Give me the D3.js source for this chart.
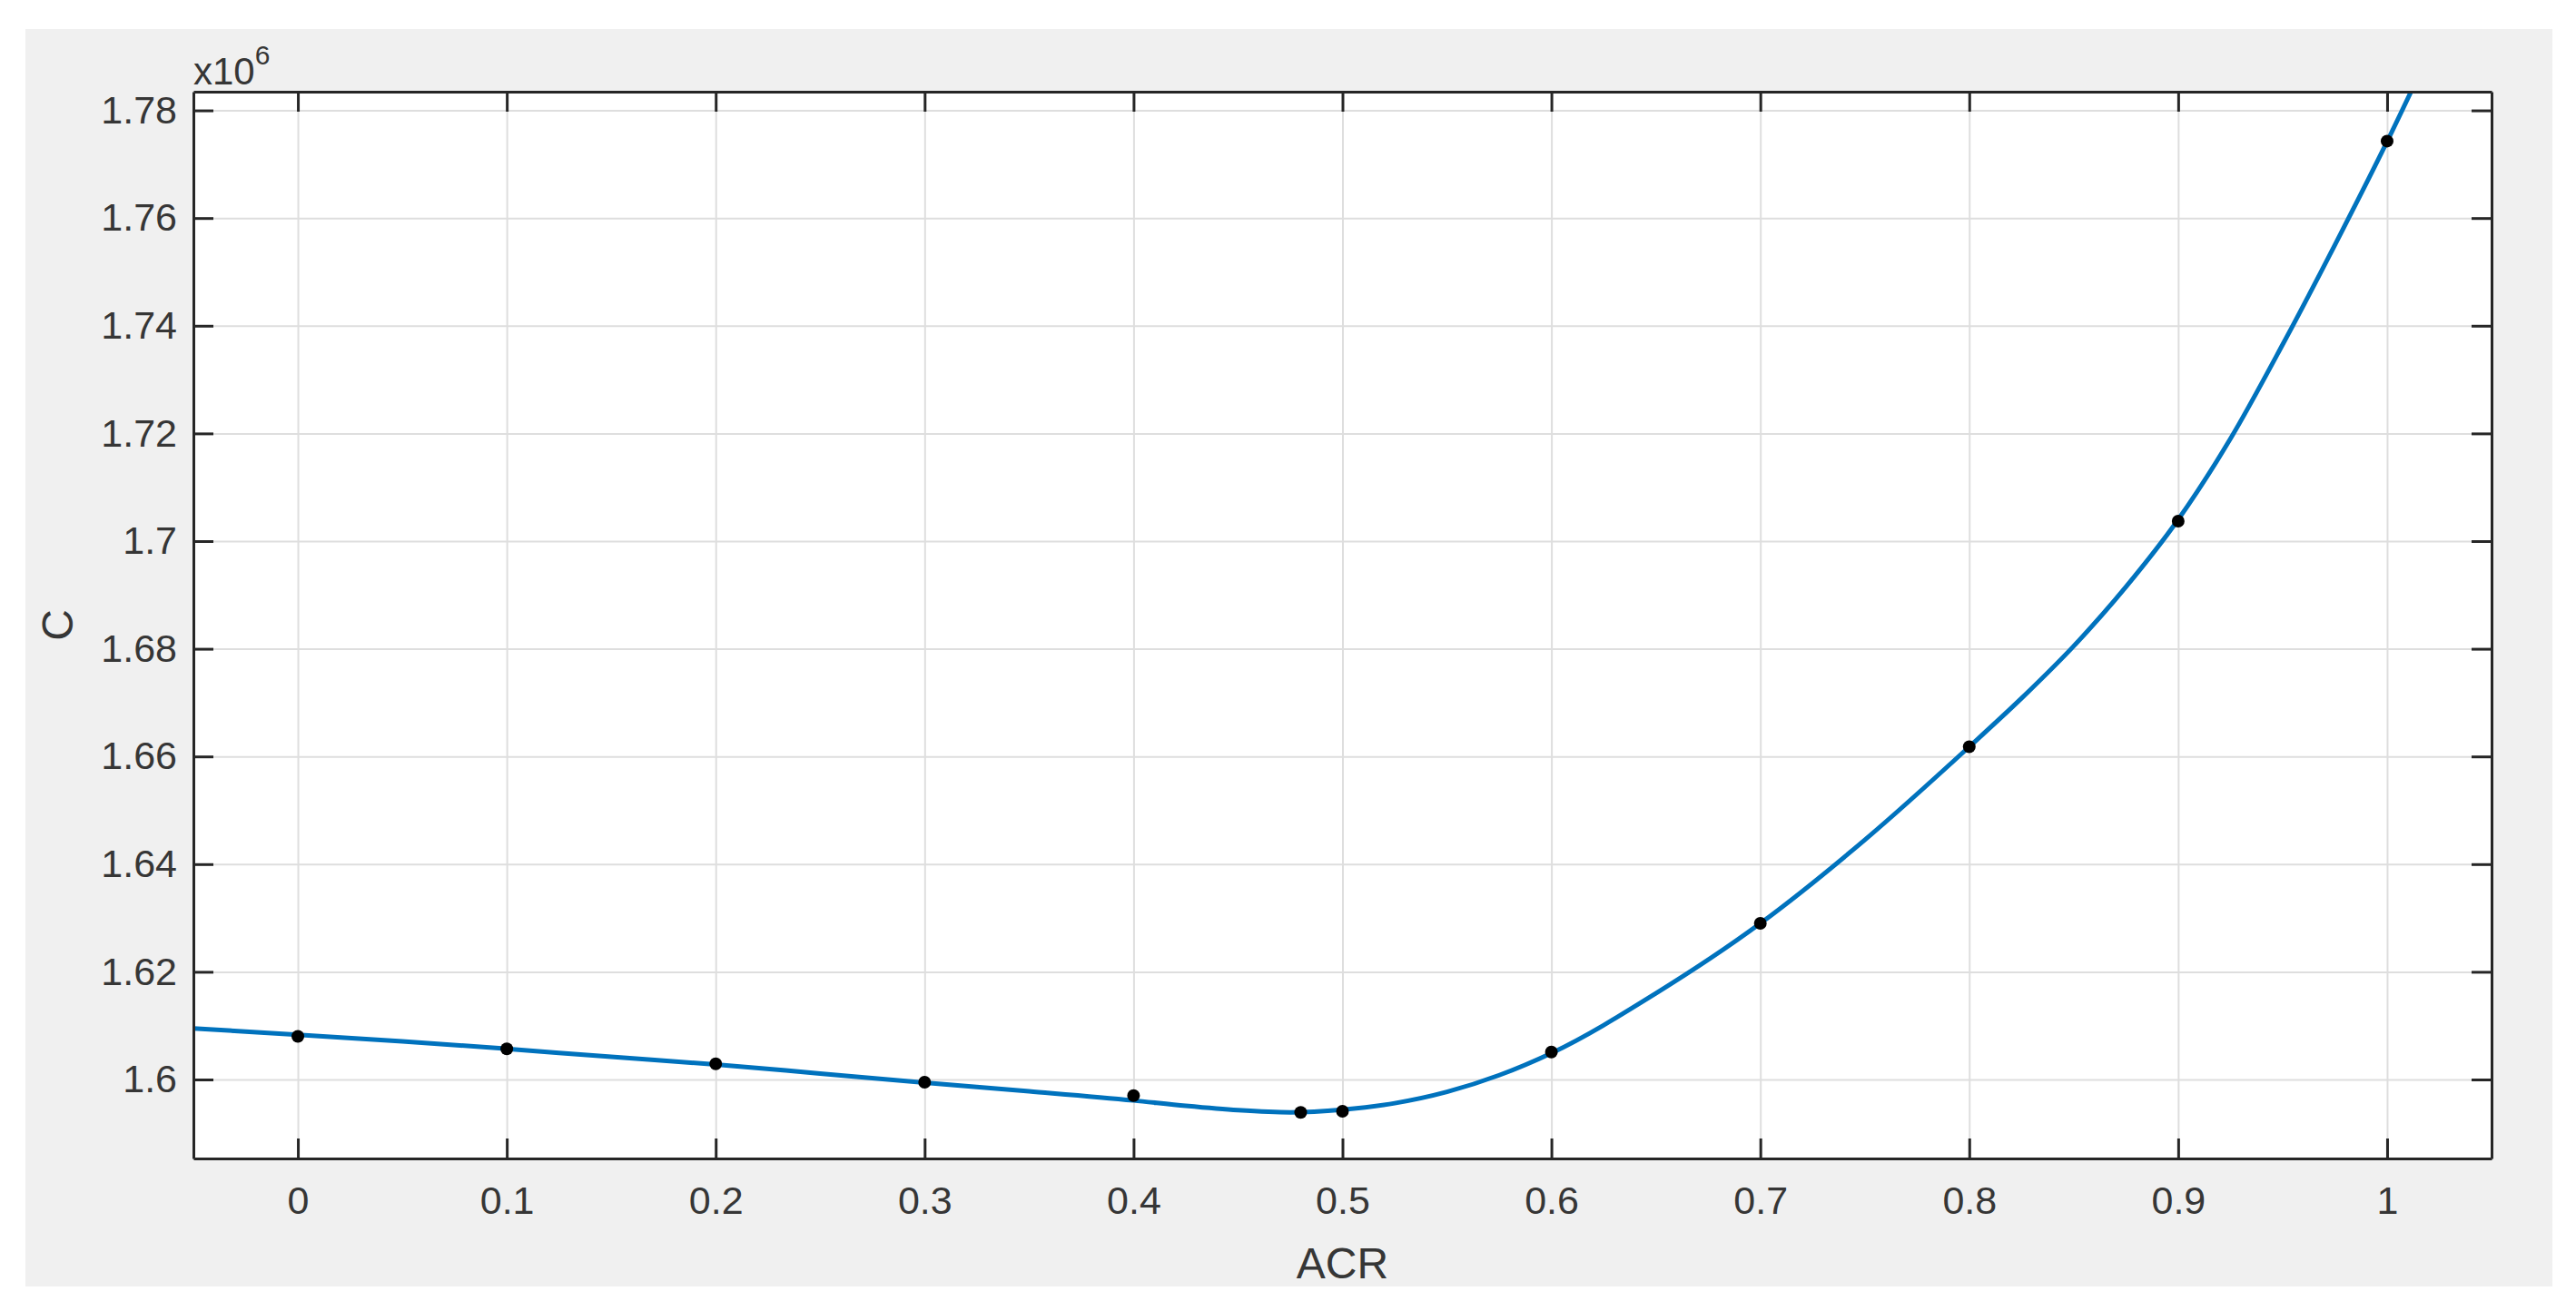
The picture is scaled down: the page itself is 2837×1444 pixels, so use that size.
<!doctype html>
<html lang="en">
<head>
<meta charset="utf-8">
<title>C vs ACR</title>
<style type="text/css">
html, body { margin: 0; padding: 0; background-color: #fff; }
svg { display: block; font-family: "Liberation Sans", Arial, sans-serif; }
.grid line { stroke: #dedede; stroke-width: 2px; }
.grid path { display: none; }
.axis path, .axis line { stroke: #262626; stroke-width: 3px; }
.axis text { fill: #363636; font-size: 43px; }
.curve { fill: none; stroke: #0072bd; stroke-width: 5px; }
.label { fill: #363636; font-size: 48px; }
</style>
<script src="https://cdn.jsdelivr.net/npm/d3@7/dist/d3.min.js"></script>
</head>
<body>
<div id="chart"></div>
<script type="text/javascript">
// measured points (ACR, C in units of 1e6)
const acr = [0, 0.1, 0.2, 0.3, 0.4, 0.48, 0.5, 0.6, 0.7, 0.8, 0.9, 1.0];
const cost = [1.6080, 1.6057, 1.6029, 1.5995, 1.5970, 1.5939, 1.5941, 1.6051, 1.6290, 1.6618, 1.7037, 1.7743];

// fitted curve
const fitX = [-0.05, 0, 0.05, 0.1, 0.15, 0.2, 0.25, 0.3, 0.35, 0.4, 0.425, 0.45, 0.475, 0.5,
              0.525, 0.55, 0.575, 0.6, 0.65, 0.7, 0.75, 0.8, 0.825, 0.85, 0.875, 0.9,
              0.925, 0.95, 0.975, 1.0, 1.02];
const fitY = [1.6095, 1.6083, 1.6071, 1.6057, 1.6042, 1.6028, 1.6011, 1.5994, 1.5978, 1.5961, 1.5951, 1.5943, 1.5939, 1.5944,
              1.5956, 1.5977, 1.6008, 1.6049, 1.6160, 1.6290, 1.6445, 1.6618, 1.6708, 1.6805, 1.6915, 1.7040,
              1.7190, 1.7365, 1.7550, 1.7742, 1.7905];

const xTicks = [0, 0.1, 0.2, 0.3, 0.4, 0.5, 0.6, 0.7, 0.8, 0.9, 1];
const yTicks = [1.6, 1.62, 1.64, 1.66, 1.68, 1.7, 1.72, 1.74, 1.76, 1.78];
const xDomain = [-0.05, 1.05];
const yDomain = [1.58533, 1.78347];

const W = 2837, H = 1444;
const margin = {top: 101, right: W - 2744, bottom: H - 1276, left: 213},
	width  = W - margin.left - margin.right,
	height = H - margin.top - margin.bottom;

const svg = d3.select("#chart").append("svg")
	.attr("width", W)
	.attr("height", H);

// figure background
svg.append("rect")
	.attr("x", 28).attr("y", 32)
	.attr("width", 2811 - 28).attr("height", 1417 - 32)
	.attr("fill", "#f0f0f0");

const g = svg.append("g")
	.attr("transform", "translate(" + margin.left + "," + margin.top + ")");

g.append("rect")
	.attr("width", width).attr("height", height)
	.attr("fill", "#fff");

const x = d3.scaleLinear().domain(xDomain).range([0, width]);
const y = d3.scaleLinear().domain(yDomain).range([height, 0]);

// grid
g.append("g").attr("class", "grid")
	.call(d3.axisBottom(x).tickValues(xTicks).tickSize(height).tickFormat(""));
g.append("g").attr("class", "grid")
	.call(d3.axisLeft(y).tickValues(yTicks).tickSize(-width).tickFormat(""));

g.append("clipPath").attr("id", "clip")
	.append("rect").attr("width", width).attr("height", height);

// the fitted line
const line = d3.line()
	.x((d, i) => x(fitX[i]))
	.y(d => y(d))
	.curve(d3.curveMonotoneX);

g.append("path")
	.datum(fitY)
	.attr("class", "curve")
	.attr("clip-path", "url(#clip)")
	.attr("d", line);

// data markers
g.selectAll(".pt")
	.data(cost)
	.enter().append("circle")
	.attr("class", "pt")
	.attr("cx", (d, i) => x(acr[i]))
	.attr("cy", d => y(d))
	.attr("r", 7)
	.attr("fill", "#000");

// axes (box with inward ticks)
const fmt = d => d3.format("~g")(d);
const tl = 22;
g.append("g").attr("class", "axis")
	.attr("transform", "translate(0," + height + ")")
	.call(d3.axisBottom(x).tickValues(xTicks).tickSizeInner(-tl).tickSizeOuter(0).tickPadding(30).tickFormat(fmt));
g.append("g").attr("class", "axis")
	.call(d3.axisTop(x).tickValues(xTicks).tickSizeInner(-tl).tickSizeOuter(0).tickFormat(""));
g.append("g").attr("class", "axis")
	.call(d3.axisLeft(y).tickValues(yTicks).tickSizeInner(-tl).tickSizeOuter(0).tickPadding(18).tickFormat(fmt));
g.append("g").attr("class", "axis")
	.attr("transform", "translate(" + width + ",0)")
	.call(d3.axisRight(y).tickValues(yTicks).tickSizeInner(-tl).tickSizeOuter(0).tickFormat(""));

g.selectAll(".axis .tick text").attr("font-family", null);

// exponent label
const ex = svg.append("text").attr("class", "label")
	.attr("x", 213).attr("y", 93)
	.style("font-size", "42px");
ex.append("tspan").text("x10");
ex.append("tspan").attr("dy", -22).style("font-size", "30px").text("6");

// axis titles
svg.append("text").attr("class", "label")
	.attr("x", margin.left + width / 2).attr("y", 1408)
	.attr("text-anchor", "middle")
	.text("ACR");

svg.append("text").attr("class", "label")
	.attr("transform", "translate(80," + (margin.top + height / 2) + ") rotate(-90)")
	.attr("text-anchor", "middle")
	.text("C");
</script>
</body>
</html>
